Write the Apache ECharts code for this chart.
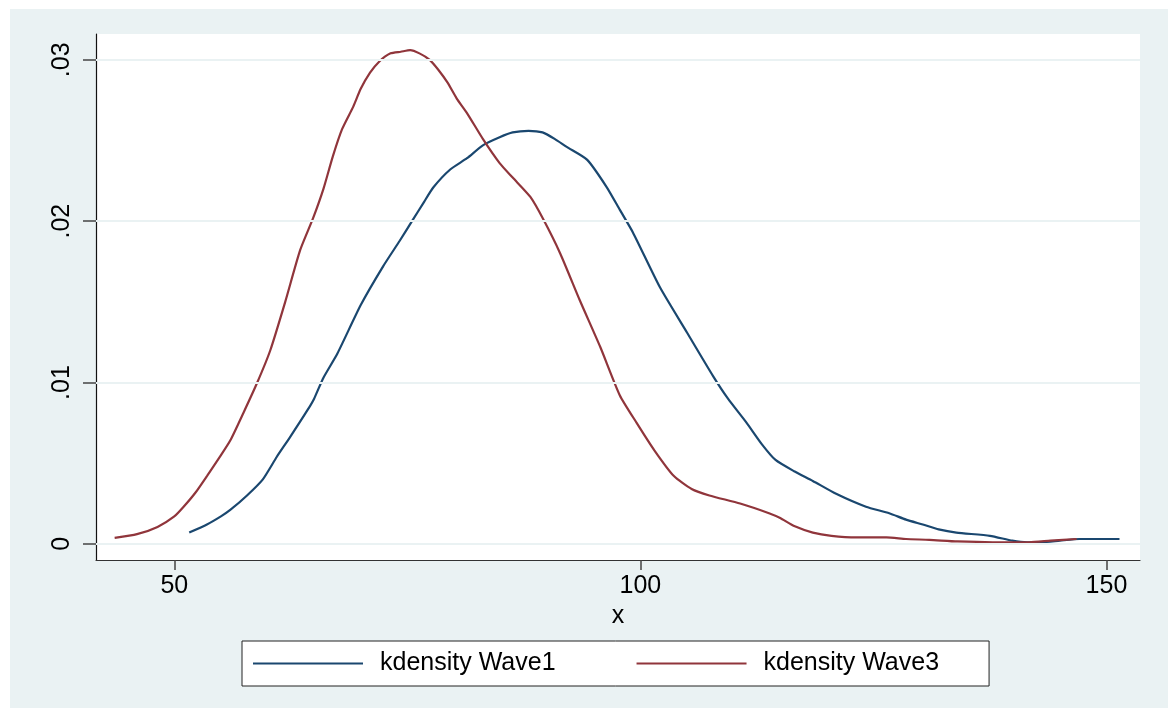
<!DOCTYPE html>
<html>
<head>
<meta charset="utf-8">
<script src="https://cdn.jsdelivr.net/npm/echarts@6/dist/echarts.min.js"></script>
<style>
html,body{margin:0;padding:0;background:#ffffff;width:1173px;height:713px;overflow:hidden;}
#main{position:absolute;left:10px;top:9px;width:1158px;height:699px;}
</style>
</head>
<body>
<div id="main"></div>
<script>
// ---- data ----
const wave1X = [51.6, 53.5, 55, 56, 57.8, 59.5, 61, 62.4, 64.3, 65, 66, 67.5, 70, 72.4, 74.2, 75.5, 76.8, 77.8, 79.6, 81.4, 83.1, 84.9, 86.3, 88, 89.5, 90.8, 92.1, 94.3, 96.4, 97.8, 99.2, 102.1, 105, 107.8, 109.4, 111.4, 113, 114.5, 116.5, 118.5, 121, 124.2, 126.7, 128.5, 130.3, 132, 133.9, 137.5, 139.9, 141.5, 143.1, 145, 147.1, 149, 151.4];
const wave1Y = [0.0007, 0.0012, 0.0017, 0.0021, 0.0030, 0.0040, 0.0054, 0.0066, 0.0083, 0.0090, 0.0103, 0.0118, 0.0148, 0.0172, 0.0188, 0.0200, 0.0212, 0.0221, 0.0232, 0.0239, 0.0247, 0.0252, 0.0255, 0.0256, 0.0255, 0.0251, 0.0246, 0.0238, 0.0221, 0.0207, 0.0193, 0.0159, 0.0131, 0.0104, 0.0090, 0.0075, 0.0062, 0.0052, 0.0045, 0.0039, 0.0031, 0.0023, 0.0019, 0.0015, 0.0012, 0.0009, 0.0007, 0.0005, 0.0002, 0.0001, 0.0001, 0.0002, 0.0003, 0.0003, 0.0003];
const wave3X = [43.6, 46, 48.2, 50, 51, 52.3, 53.5, 54.9, 56, 57.4, 58.9, 60.3, 61.9, 63.5, 64.9, 66, 67, 68, 69.2, 70, 71, 72, 73.2, 74.3, 75.3, 76.3, 77.4, 78.3, 79.3, 80.3, 81.4, 83.1, 84.9, 86.3, 88.2, 89.6, 91.4, 93.5, 95.7, 97.8, 99.6, 101.5, 103.6, 105.5, 107.4, 110.7, 113.8, 115, 116.5, 118.5, 120.5, 123.2, 126.4, 128.5, 131, 134, 137.8, 141.7, 144, 146.8];
const wave3Y = [0.00037, 0.0006, 0.00105, 0.0017, 0.0023, 0.0032, 0.0042, 0.0054, 0.0064, 0.0081, 0.0100, 0.0120, 0.0150, 0.0182, 0.0202, 0.0220, 0.0240, 0.0257, 0.0271, 0.0282, 0.0292, 0.0299, 0.0304, 0.0305, 0.0306, 0.0304, 0.0300, 0.0294, 0.0286, 0.0276, 0.0267, 0.0251, 0.0236, 0.0227, 0.0215, 0.0201, 0.0180, 0.0151, 0.0122, 0.0092, 0.0075, 0.0058, 0.0042, 0.0034, 0.0030, 0.0025, 0.0019, 0.0016, 0.0011, 0.0007, 0.0005, 0.0004, 0.0004, 0.0003, 0.00025, 0.00015, 0.0001, 0.0001, 0.0002, 0.0003];
const xTicks = [50, 100, 150];
const yTicks = [0, 0.01, 0.02, 0.03];
const seriesNames = ['kdensity Wave1', 'kdensity Wave3'];
const xTitle = 'x';

const FONT = 'Liberation Sans, Arial, sans-serif';
const pairs = (xs, ys) => xs.map((x, i) => [x, ys[i]]);

const chart = echarts.init(document.getElementById('main'));
chart.setOption({
  backgroundColor: '#eaf2f3',
  animation: false,
  textStyle: { fontFamily: FONT },
  grid: {
    left: 86, top: 25, width: 1044, height: 526,
    show: true, backgroundColor: '#ffffff', borderWidth: 0
  },
  xAxis: {
    type: 'value', min: 41.6, max: 153.6,
    name: xTitle, nameLocation: 'middle', nameGap: 40,
    nameTextStyle: { fontSize: 25, color: '#000', fontFamily: FONT },
    axisLine: { show: true, onZero: false, lineStyle: { color: '#333', width: 1.2 } },
    axisTick: { show: true, length: 10, customValues: xTicks, lineStyle: { color: '#444', width: 1.5 } },
    axisLabel: { customValues: xTicks, fontSize: 25, color: '#000', margin: 14, fontFamily: FONT },
    splitLine: { show: false }
  },
  yAxis: {
    type: 'value', min: -0.001, max: 0.0316,
    axisLine: { show: true, onZero: false, lineStyle: { color: '#111', width: 1.2 } },
    axisTick: { show: true, length: 13, customValues: yTicks, lineStyle: { color: '#444', width: 1.5 } },
    axisLabel: {
      customValues: yTicks, rotate: 90, fontSize: 25, color: '#000', margin: 21, fontFamily: FONT,
      formatter: v => (v === 0 ? '0' : String(+v.toFixed(4)).replace(/^0/, ''))
    },
    splitLine: { show: false }
  },
  legend: {
    data: seriesNames,
    left: 232, top: 632,
    orient: 'horizontal',
    backgroundColor: '#ffffff',
    borderColor: '#222', borderWidth: 1, borderRadius: 0,
    padding: [10, 50, 10, 11],
    itemGap: 81,
    icon: 'rect',
    itemWidth: 110, itemHeight: 2,
    textStyle: { fontSize: 25, color: '#000', fontFamily: FONT, padding: [0, 0, 0, 12] },
    selectedMode: false
  },
  series: [
    {
      type: 'line', name: '__grid', data: [], silent: true, z: 1,
      markLine: {
        silent: true, symbol: 'none', label: { show: false },
        lineStyle: { color: '#eaf2f3', width: 2, type: 'solid' },
        data: yTicks.map(v => ({ yAxis: v }))
      }
    },
    {
      type: 'line', name: seriesNames[0], data: pairs(wave1X, wave1Y),
      symbol: 'none', smooth: 0.2, z: 3,
      lineStyle: { color: '#1a476f', width: 2.2 }, itemStyle: { color: '#1a476f' }
    },
    {
      type: 'line', name: seriesNames[1], data: pairs(wave3X, wave3Y),
      symbol: 'none', smooth: 0.2, z: 3,
      lineStyle: { color: '#90353b', width: 2.2 }, itemStyle: { color: '#90353b' }
    }
  ]
});
</script>
</body>
</html>
